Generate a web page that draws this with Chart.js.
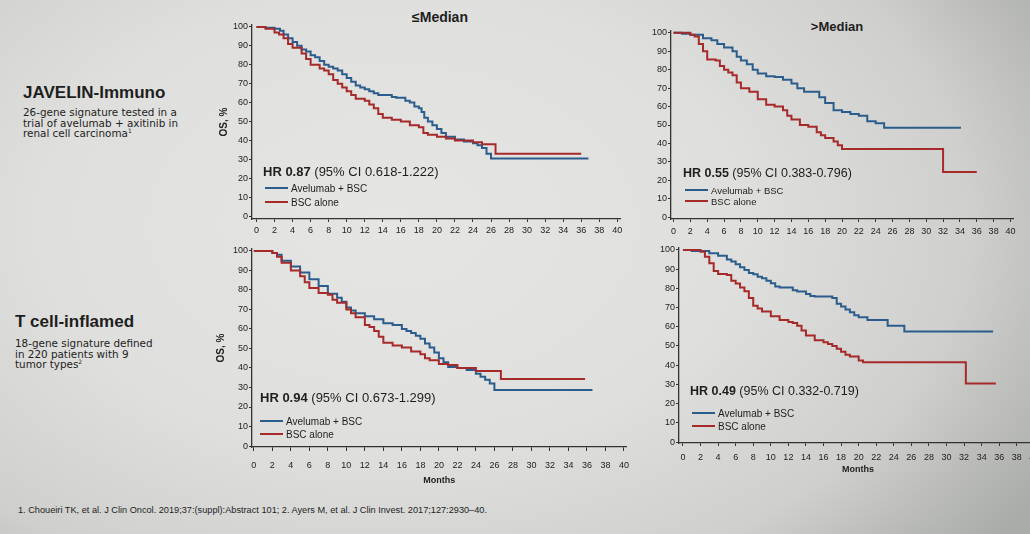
<!DOCTYPE html>
<html>
<head>
<meta charset="utf-8">
<script src="https://cdn.jsdelivr.net/npm/chart.js@4.4.1/dist/chart.umd.min.js"></script>
<style>
  html, body { margin: 0; padding: 0; }
  body {
    width: 1030px; height: 534px; overflow: hidden; position: relative;
    font-family: "Liberation Sans", Arial, sans-serif; color: #1e1e1e;
    background: radial-gradient(ellipse 75% 95% at 38% 42%, #e5e5e3 0%, #dfdfdd 45%, #cfd0cd 75%, #a9aba8 100%);
  }
  canvas { position: absolute; }
  .t { position: absolute; white-space: nowrap; }
  .ttl { font-weight: bold; text-align: center; width: 100px; line-height: 16px; }
  .head { font-weight: bold; font-size: 17px; line-height: 20px; }
  .sub { font-family: "DejaVu Sans", sans-serif; font-size: 10.4px; line-height: 10.7px; letter-spacing: 0px; }
  .hr { line-height: 16px; }
  .hr b { font-weight: bold; }
  .leg { line-height: 12px; }
  .sw { display: inline-block; width: 23px; height: 2px; vertical-align: middle; margin-right: 3px; margin-top: -2px; }
  .blue { background: #2b5d8c; }
  .red { background: #a62a2a; }
  sup { font-size: 6px; vertical-align: 4px; line-height: 0; }
</style>
</head>
<body>

<div class="t ttl" style="left:390px;top:9px;font-size:14px">≤Median</div>
<div class="t ttl" style="left:787px;top:19px;font-size:13px">&gt;Median</div>

<div class="t head" style="left:23px;top:83px">JAVELIN-Immuno</div>
<div class="t sub" style="left:23px;top:107px">26-gene signature tested in a<br>trial of avelumab + axitinib in<br>renal cell carcinoma<sup>1</sup></div>

<div class="t head" style="left:15px;top:312px">T cell-inflamed</div>
<div class="t sub" style="left:15px;top:338px">18-gene signature defined<br>in 220 patients with 9<br>tumor types<sup>2</sup></div>

<div class="t" style="left:18px;top:505px;font-size:9.2px;line-height:10px">1. Choueiri TK, et al. J Clin Oncol. 2019;37:(suppl):Abstract 101; 2. Ayers M, et al. J Clin Invest. 2017;127:2930–40.</div>

<canvas id="c1"></canvas>
<canvas id="c2"></canvas>
<canvas id="c3"></canvas>
<canvas id="c4"></canvas>

<div class="t hr" style="left:263px;top:164px;font-size:13px"><b>HR 0.87</b> (95% CI 0.618-1.222)</div>
<div class="t leg" style="left:265px;top:183px;font-size:10px"><span class="sw blue"></span>Avelumab + BSC</div>
<div class="t leg" style="left:265px;top:197px;font-size:10px"><span class="sw red"></span>BSC alone</div>

<div class="t hr" style="left:683px;top:165px;font-size:12.5px"><b>HR 0.55</b> (95% CI 0.383-0.796)</div>
<div class="t leg" style="left:685px;top:185px;font-size:9.5px"><span class="sw blue"></span>Avelumab + BSC</div>
<div class="t leg" style="left:685px;top:196px;font-size:9.5px"><span class="sw red"></span>BSC alone</div>

<div class="t hr" style="left:260px;top:390px;font-size:13px"><b>HR 0.94</b> (95% CI 0.673-1.299)</div>
<div class="t leg" style="left:260px;top:416px;font-size:10px"><span class="sw blue"></span>Avelumab + BSC</div>
<div class="t leg" style="left:260px;top:429px;font-size:10px"><span class="sw red"></span>BSC alone</div>

<div class="t hr" style="left:690px;top:383px;font-size:12.5px"><b>HR 0.49</b> (95% CI 0.332-0.719)</div>
<div class="t leg" style="left:692px;top:408px;font-size:10px"><span class="sw blue"></span>Avelumab + BSC</div>
<div class="t leg" style="left:692px;top:421px;font-size:10px"><span class="sw red"></span>BSC alone</div>

<script>
// AXIS TICKS
const monthTicks = [0, 2, 4, 6, 8, 10, 12, 14, 16, 18, 20, 22, 24, 26, 28, 30, 32, 34, 36, 38, 40];
const osTicks = [0, 10, 20, 30, 40, 50, 60, 70, 80, 90, 100];

// JAVELIN-Immuno, <= median
const jiLowAvelX = [0, 1, 2, 2.6, 3, 3.5, 4, 4.5, 5, 5.5, 6, 6.5, 7, 7.5, 8, 8.5, 9, 9.5, 10, 10.5, 11, 11.5, 12, 12.5, 13, 13.5, 14, 15, 15.5, 16, 16.5, 17, 17.5, 18, 18.3, 18.6, 19, 19.5, 20, 20.5, 21, 22, 23, 24, 24.5, 25, 25.5, 26, 36.8];
const jiLowAvelY = [100, 99.5, 99, 98, 96, 94, 92, 90, 88, 87, 85, 84, 82, 80, 79, 78, 77, 75, 73, 71, 69, 68, 67, 66, 65, 64, 64, 63, 62.5, 62.5, 61, 60, 58, 57, 55, 52, 50, 48, 46, 44, 42, 40.5, 39.5, 38.5, 37.5, 36, 33, 30.5, 30.5];
const jiLowBscX = [0, 1, 2, 2.5, 3, 3.5, 4, 5, 5.5, 6, 7, 7.5, 8, 8.5, 9, 9.5, 10, 10.5, 11, 12, 12.5, 13, 13.5, 14, 15, 16, 17, 18, 18.5, 19, 20, 21, 22, 23, 24, 25, 26.5, 36];
const jiLowBscY = [100, 99, 97, 96, 94, 91, 89, 86, 83, 80, 78, 77, 75, 72, 70, 68, 66, 64, 62, 61, 59, 57, 54, 52, 51, 50, 48, 47, 44, 43, 42, 41, 40, 40, 39, 38, 33, 33];

// JAVELIN-Immuno, > median
const jiHighAvelX = [0, 1, 2, 2.7, 3.5, 4.5, 5.2, 6, 7, 7.5, 8, 8.7, 9.4, 10, 11, 12, 13, 14, 14.7, 15.5, 16.5, 17.3, 18, 19, 20, 21, 22, 23, 24, 25, 34];
const jiHighAvelY = [100, 99.5, 99, 99, 97, 96, 94, 92, 90, 87, 85, 83, 80, 78, 76.5, 76, 74.5, 72.5, 70, 68, 68, 65, 62, 58, 57, 56, 55, 52, 51, 48.5, 48];
const jiHighBscX = [0, 2, 2.5, 3, 3.5, 4, 5, 5.5, 6, 6.5, 7, 7.5, 8, 9, 10, 11, 12, 13, 13.5, 14, 15, 16, 17, 17.5, 18, 19, 19.5, 20, 32, 36];
const jiHighBscY = [100, 99, 98, 94, 90, 85.5, 85, 82, 80, 78.5, 77, 73, 70, 68, 64, 61, 60, 58, 55, 53, 50, 49, 46, 44.5, 43, 41, 39, 37, 24.5, 24.5];

// T cell-inflamed, <= median
const tcLowAvelX = [0, 2, 2.5, 3, 4, 5, 6, 7, 8, 9, 9.5, 10, 10.5, 11, 12, 13, 14, 15, 16, 16.5, 17, 17.5, 18, 18.5, 19, 19.5, 20, 20.5, 21, 22, 23, 24, 24.5, 25, 25.5, 26, 36.6];
const tcLowAvelY = [100, 99, 98, 95, 92, 89, 85.5, 82, 78, 76, 74, 71, 69.5, 68, 66.5, 65, 63, 62, 60, 59, 58, 56.5, 55, 52.5, 50.5, 48, 45, 43, 40.5, 40, 39, 37, 35.5, 34, 32, 28.7, 28.7];
const tcLowBscX = [0, 2, 2.5, 3, 4, 5, 5.5, 6, 7, 8, 8.5, 9, 10, 10.5, 11, 12, 12.5, 13, 13.5, 14, 15, 16, 17, 18, 18.5, 19, 20, 21, 22, 24, 26.7, 35.8];
const tcLowBscY = [100, 99, 97, 94, 90, 87, 84, 81, 78.5, 77.5, 75, 73.5, 70, 68, 66, 62, 61, 59, 56, 53, 51.5, 50.5, 48.5, 47, 45, 44, 42, 41.5, 40, 38.5, 34.3, 34.3];

// T cell-inflamed, > median
const tcHighAvelX = [0, 1, 2, 3, 4, 5, 5.5, 6, 6.5, 7, 7.5, 8, 8.5, 9, 9.5, 10, 10.5, 11, 12, 12.5, 13, 14, 14.5, 15, 17, 17.5, 18, 18.5, 19, 19.5, 20, 21, 23.3, 25.2, 35.3];
const tcHighAvelY = [100, 99.5, 99.5, 98.3, 97, 95, 94, 92.5, 91, 89.6, 88, 87.3, 86, 85.3, 84, 82.7, 81, 80.4, 80.4, 79, 78.3, 77, 76, 75.7, 75, 72, 70.5, 69, 67.6, 66, 65, 63.5, 60.5, 57.5, 57.5];
const tcHighBscX = [0, 2, 2.5, 3, 3.5, 4, 5, 5.5, 6, 6.5, 7, 7.5, 8, 8.5, 9, 10, 11, 12, 12.5, 13, 13.5, 14, 15, 16, 16.5, 17, 17.5, 18, 18.5, 19, 20, 20.5, 32.2, 35.5];
const tcHighBscY = [100, 99, 96.5, 93, 89, 87.5, 87, 84, 82.5, 80.5, 78.5, 75, 71, 69.5, 68, 65.5, 63.5, 62.5, 62, 60.5, 58, 55.5, 53, 52, 51, 50, 48.5, 47, 45.5, 44.5, 42.5, 41.5, 30.5, 30];

const BLUE = "#2b5d8c";
const RED = "#a62a2a";
const AXIS = "#333333";
const FONT = "'Liberation Sans', Arial, sans-serif";

function toPts(xs, ys) {
    return xs.map((x, i) => ({ x: x, y: ys[i] }));
}

function kmChart(id, box, avelX, avelY, bscX, bscY) {
    const cv = document.getElementById(id);
    cv.width = box.w;
    cv.height = box.h;
    cv.style.left = box.l + "px";
    cv.style.top = box.t + "px";

    const curve = (color, xs, ys) => ({
        data: toPts(xs, ys),
        borderColor: color,
        borderWidth: 2,
        stepped: "before",
        pointRadius: 0,
        fill: false
    });

    return new Chart(cv, {
        type: "line",
        data: { datasets: [curve(RED, bscX, bscY), curve(BLUE, avelX, avelY)] },
        options: {
            responsive: false,
            animation: false,
            devicePixelRatio: 1,
            layout: { padding: { top: box.pt, right: box.pr, left: 0, bottom: 0 } },
            plugins: { legend: { display: false }, tooltip: { enabled: false } },
            scales: {
                x: {
                    type: "linear",
                    min: box.xMin,
                    max: box.xMax,
                    afterBuildTicks: (s) => { s.ticks = monthTicks.map(v => ({ value: v })); },
                    afterFit: (s) => { s.height = box.xh; },
                    border: { color: AXIS, width: 1.3 },
                    grid: { drawOnChartArea: false, tickLength: box.tl, color: AXIS, lineWidth: 1 },
                    ticks: { padding: box.xpad, color: "#222", font: { size: 9, family: FONT }, maxRotation: 0, autoSkip: false },
                    title: {
                        display: box.months,
                        text: "Months",
                        color: "#222",
                        font: { size: 9, weight: "bold", family: FONT },
                        padding: { top: 0, bottom: 1 }
                    }
                },
                y: {
                    min: box.yMin,
                    max: 101,
                    afterBuildTicks: (s) => { s.ticks = osTicks.map(v => ({ value: v })); },
                    afterFit: (s) => { s.width = box.yw; },
                    border: { color: AXIS, width: 1.3 },
                    grid: { drawOnChartArea: false, tickLength: 3, color: AXIS, lineWidth: 1 },
                    ticks: { padding: 1, color: "#222", font: { size: 9, family: FONT } },
                    title: {
                        display: box.osTitle,
                        text: "OS, %",
                        color: "#222",
                        font: { size: 10, weight: "bold", family: FONT },
                        padding: { top: box.ytPad, bottom: 0 }
                    }
                }
            }
        }
    });
}

kmChart("c1", { l: 207, t: 17, w: 423, h: 218, pt: 8, pr: 10, yw: 45, xh: 16, tl: 3, xpad: 3, xMin: -0.5, xMax: 40.3, yMin: -1.5, months: false, osTitle: true, ytPad: 11 },
    jiLowAvelX, jiLowAvelY, jiLowBscX, jiLowBscY);

kmChart("c2", { l: 647, t: 23, w: 376, h: 212, pt: 8, pr: 10, yw: 24, xh: 16, tl: 3, xpad: 4, xMin: -0.3, xMax: 40.3, yMin: -1, months: false, osTitle: false, ytPad: 0 },
    jiHighAvelX, jiHighAvelY, jiHighBscX, jiHighBscY);

kmChart("c3", { l: 205, t: 241, w: 433, h: 246, pt: 8, pr: 10, yw: 47, xh: 40, tl: 4, xpad: 9, xMin: -0.2, xMax: 40.3, yMin: -0.5, months: true, osTitle: true, ytPad: 10 },
    tcLowAvelX, tcLowAvelY, tcLowBscX, tcLowBscY);

kmChart("c4", { l: 655, t: 240, w: 392, h: 236, pt: 8, pr: 10, yw: 24, xh: 33, tl: 3, xpad: 6, xMin: -0.45, xMax: 40.3, yMin: -0.5, months: true, osTitle: false, ytPad: 0 },
    tcHighAvelX, tcHighAvelY, tcHighBscX, tcHighBscY);
</script>
</body>
</html>
